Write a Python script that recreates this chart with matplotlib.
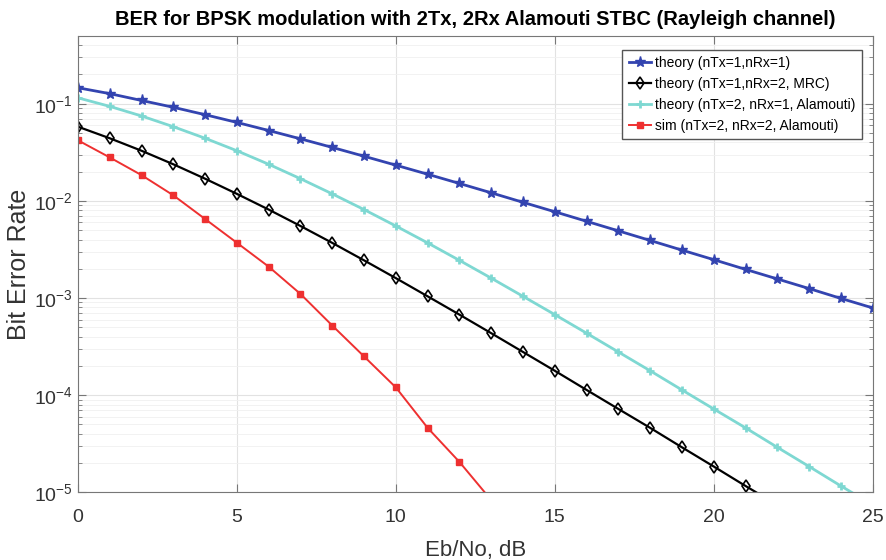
import numpy as np
import matplotlib
matplotlib.use('Agg')
import matplotlib.pyplot as plt

# Eb/No points in dB
ebno_db = list(range(0, 26))

# values
ber_1x1 = [0.146, 0.127, 0.108, 0.0919, 0.0771, 0.0642, 0.0530, 0.0435, 0.0355, 0.0288,
           0.0233, 0.0188, 0.0151, 0.0121, 0.00966, 0.00772, 0.00616, 0.00491, 0.00391,
           0.00311, 0.00248, 0.00197, 0.00157, 0.00125, 0.00099, 0.00079]
ber_mrc = [0.0580, 0.0441, 0.0328, 0.0238, 0.0169, 0.0118, 0.00813, 0.00551, 0.00369,
           0.00244, 0.00160, 0.00104, 0.000674, 0.000434, 0.000278, 0.000178, 0.000113,
           7.2e-5, 4.6e-5, 2.9e-5, 1.84e-5, 1.16e-5, 7.4e-6, 4.7e-6, 2.9e-6, 1.9e-6]
ber_ala21 = [0.115, 0.0939, 0.0748, 0.0580, 0.0441, 0.0328, 0.0238, 0.0169, 0.0118,
             0.00813, 0.00551, 0.00369, 0.00244, 0.00160, 0.00104, 0.000674, 0.000434,
             0.000278, 0.000178, 0.000113, 7.2e-5, 4.6e-5, 2.9e-5, 1.84e-5, 1.16e-5, 7.4e-6]
ebno_sim = list(range(0, 14))
ber_sim = [0.042, 0.028, 0.0184, 0.0114, 0.0065, 0.0037, 0.0021, 0.0011, 0.00052,
           0.00025, 0.00012, 4.6e-5, 2.05e-5, 8.3e-6]

labels = ['theory (nTx=1,nRx=1)', 'theory (nTx=1,nRx=2, MRC)',
          'theory (nTx=2, nRx=1, Alamouti)', 'sim (nTx=2, nRx=2, Alamouti)']

plt.rcParams['font.family'] = ['Liberation Sans', 'DejaVu Sans']

fig = plt.figure(figsize=(8.86, 5.6), dpi=100)
ax = fig.add_axes([0.088, 0.121, 0.897, 0.815])

ax.semilogy(ebno_db, ber_1x1, color='#3344b0', marker='*', markersize=8, lw=2, label=labels[0])
ax.semilogy(ebno_db, ber_mrc, color='black', marker='d', markersize=6, mfc='none',
            mew=1.2, lw=1.6, label=labels[1])
ax.semilogy(ebno_db, ber_ala21, color='#7ed8d2', marker='+', markersize=6, mew=2,
            lw=2, label=labels[2])
ax.semilogy(ebno_sim, ber_sim, color='#ee3030', marker='s', markersize=4, lw=1.4,
            label=labels[3])

ax.set_xlim(0, 25)
ax.set_ylim(1e-5, 0.5)
ax.set_xticks([0, 5, 10, 15, 20, 25])
ax.grid(True, which='major', color='#e2e2e2', lw=0.8)
ax.grid(True, which='minor', axis='y', color='#f0f0f0', lw=0.6)
ax.tick_params(which='both', direction='in', top=True, right=True, colors='#777777',
               labelcolor='#333333', labelsize=14)
ax.tick_params(which='major', length=6)
ax.tick_params(which='minor', length=3)
ax.tick_params(axis='x', pad=12)
for s in ax.spines.values():
    s.set_color('#777777')

ax.set_xlabel('Eb/No, dB', fontsize=16, color='#333333', labelpad=10)
ax.set_ylabel('Bit Error Rate', fontsize=18, color='#333333', labelpad=2)
ax.set_title('BER for BPSK modulation with 2Tx, 2Rx Alamouti STBC (Rayleigh channel)',
             fontsize=14.5, fontweight='bold', pad=8)

leg = ax.legend(loc='upper right', fontsize=10, fancybox=False, framealpha=1,
                edgecolor='#555555', handlelength=1.6, handletextpad=0.3,
                borderpad=0.45, labelspacing=0.5, borderaxespad=0,
                bbox_to_anchor=(0.986, 0.969))

fig.savefig('out.png', dpi=100)
